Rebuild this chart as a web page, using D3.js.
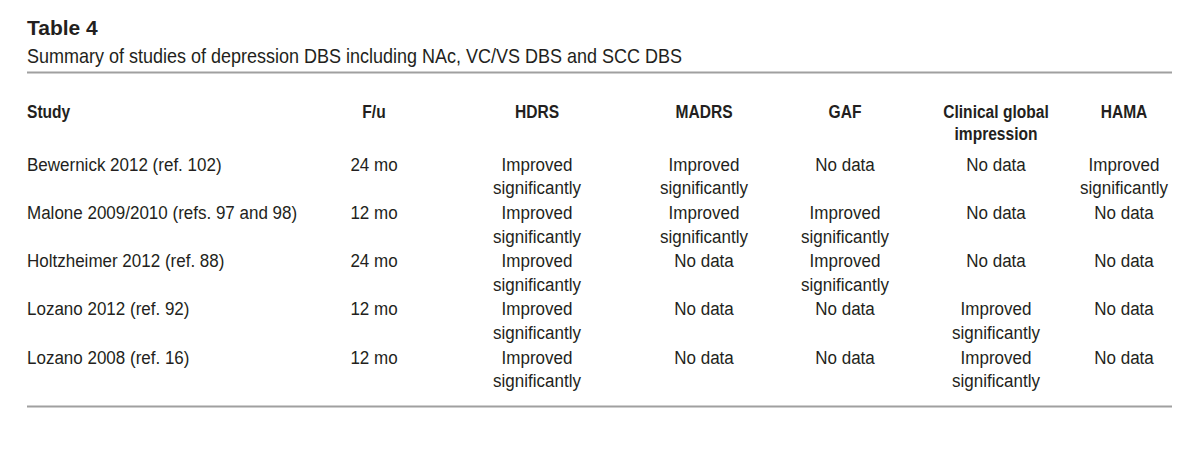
<!DOCTYPE html>
<html>
<head>
<meta charset="utf-8">
<script src="https://cdn.jsdelivr.net/npm/d3@7"></script>
<style>
  body { margin: 0; background: #fff; }
  text { fill: #231f20; font-family: "Liberation Sans", Arial, Helvetica, sans-serif; }
</style>
</head>
<body>
<div id="table"></div>
<script>
// table content
var titleText = "Table 4";
var subtitleText = "Summary of studies of depression DBS including NAc, VC/VS DBS and SCC DBS";
var columns = ["Study", "F/u", "HDRS", "MADRS", "GAF", "Clinical global impression", "HAMA"];
var studies = ["Bewernick 2012 (ref. 102)", "Malone 2009/2010 (refs. 97 and 98)", "Holtzheimer 2012 (ref. 88)", "Lozano 2012 (ref. 92)", "Lozano 2008 (ref. 16)"];
var followUp = ["24 mo", "12 mo", "24 mo", "12 mo", "12 mo"];
var hdrs = ["Improved significantly", "Improved significantly", "Improved significantly", "Improved significantly", "Improved significantly"];
var madrs = ["Improved significantly", "Improved significantly", "No data", "No data", "No data"];
var gaf = ["No data", "Improved significantly", "Improved significantly", "No data", "No data"];
var cgi = ["No data", "No data", "No data", "Improved significantly", "Improved significantly"];
var hama = ["Improved significantly", "No data", "No data", "No data", "No data"];

var width = 1200, height = 474;
var left = 27, right = 1172;

// text styles: size, weight and horizontal squeeze (to mimic a condensed face)
var bodyStyle = {size: 19, weight: "normal", sx: 0.895, lineH: 23.5};
var headStyle = {size: 19, weight: "bold", sx: 0.82, lineH: 22};

var svg = d3.select("#table").append("svg").attr("width", width).attr("height", height);
svg.append("rect").attr("width", width).attr("height", height).attr("fill", "#fff");

// column centres (study column is left aligned)
var xCol = d3.scaleOrdinal().domain(columns).range([left, 374, 537, 704, 845, 996, 1124]);
// row baselines
var yRow = d3.scalePoint().domain(d3.range(studies.length)).range([171, 363.5]);

var rows = studies.map(function(s, i) {
    return [s, followUp[i], hdrs[i], madrs[i], gaf[i], cgi[i], hama[i]];
});

// title and subtitle
svg.append("text").attr("x", left).attr("y", 35)
    .style("font-weight", "bold").style("font-size", "21px")
    .text(titleText);
svg.append("g").attr("transform", "translate(" + left + ",62.5) scale(0.9,1)")
    .append("text").style("font-size", "20px")
    .text(subtitleText);

// rules
svg.append("line").attr("x1", left).attr("x2", right).attr("y1", 72.5).attr("y2", 72.5)
    .attr("stroke", "#a0a0a0").attr("stroke-width", 2.2);
svg.append("line").attr("x1", left).attr("x2", right).attr("y1", 406.5).attr("y2", 406.5)
    .attr("stroke", "#a0a0a0").attr("stroke-width", 2.2);

// simple word wrap into lines no wider than maxW (after squeeze)
function wrapLines(str, maxW, st) {
    var probe = svg.append("text").style("font-size", st.size + "px").style("font-weight", st.weight);
    var words = str.split(" "), lines = [], cur = "";
    words.forEach(function(w) {
        var test = cur ? cur + " " + w : w;
        probe.text(test);
        if (cur && probe.node().getComputedTextLength() * st.sx > maxW) { lines.push(cur); cur = w; }
        else cur = test;
    });
    lines.push(cur);
    probe.remove();
    return lines;
}

function drawCell(parent, str, col, y, st) {
    var isStudy = col === columns[0];
    var lines = isStudy ? [str] : wrapLines(str, 120, st);
    var t = parent.append("g")
        .attr("transform", "translate(" + xCol(col) + "," + y + ") scale(" + st.sx + ",1)")
        .append("text")
        .attr("text-anchor", isStudy ? "start" : "middle")
        .style("font-size", st.size + "px").style("font-weight", st.weight);
    t.selectAll("tspan").data(lines).enter().append("tspan")
        .attr("x", 0).attr("y", function(d, k) { return k * st.lineH; })
        .text(function(d) { return d; });
}

// header
var head = svg.append("g");
columns.forEach(function(c) { drawCell(head, c, c, 118, headStyle); });

// body
var body = svg.append("g");
rows.forEach(function(r, i) {
    r.forEach(function(v, j) { drawCell(body, v, columns[j], yRow(i), bodyStyle); });
});
</script>
</body>
</html>
